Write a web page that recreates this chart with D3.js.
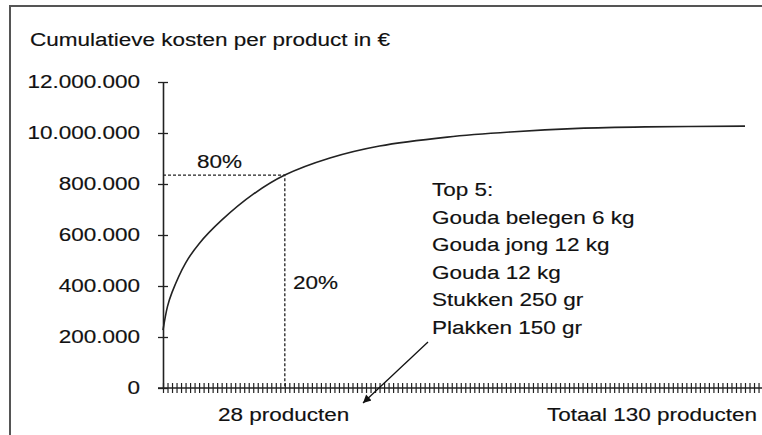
<!DOCTYPE html>
<html>
<head>
<meta charset="utf-8">
<script src="https://cdn.jsdelivr.net/npm/d3@7"></script>
<style>
  body { margin: 0; background: #fff; }
  text { font-family: "Liberation Sans", Arial, sans-serif; font-size: 18px; fill: #111; stroke: #111; stroke-width: 0.15; }
</style>
</head>
<body>
<script>
// cumulative cost (in €) after n products
const products = [1, 2, 3, 6, 9, 14, 21, 28, 38, 49, 64, 78, 93, 108, 130];
const cumCost = [2270000, 3200000, 3750000, 4900000, 5660000, 6580000, 7600000, 8350000, 9020000, 9490000, 9840000, 10040000, 10180000, 10240000, 10270000];

const yTickValues = [0, 2000000, 4000000, 6000000, 8000000, 10000000, 12000000];
const yTickLabels = ["0", "200.000", "400.000", "600.000", "800.000", "10.000.000", "12.000.000"];

const cutoffProduct = 28;
const top5 = ["Top 5:", "Gouda belegen 6 kg", "Gouda jong 12 kg", "Gouda 12 kg", "Stukken 250 gr", "Plakken 150 gr"];

const width = 762, height = 435;
const SX = 1.25; // the scan is stretched sideways

const svg = d3.select("body").append("svg")
    .attr("width", width)
    .attr("height", height);

svg.append("defs").append("marker")
    .attr("id", "arrow")
    .attr("viewBox", "0 0 10 10")
    .attr("refX", 10).attr("refY", 5)
    .attr("markerWidth", 11).attr("markerHeight", 8)
    .attr("markerUnits", "userSpaceOnUse")
    .attr("orient", "auto")
    .append("path")
    .attr("d", "M0,0 L10,5 L0,10 z")
    .attr("fill", "#111");

// frame
svg.append("path")
    .attr("d", `M10,${height} V6 H${width}`)
    .attr("fill", "none")
    .attr("stroke", "#555")
    .attr("stroke-width", 2);

function label(x, y, txt, anchor) {
    svg.append("text")
        .attr("transform", `translate(${x},${y}) scale(${SX},1)`)
        .attr("text-anchor", anchor || "start")
        .text(txt);
}

const x = d3.scaleLinear().domain([1, 130]).range([163, 745]);
const y = d3.scaleLinear().domain([0, 12000000]).range([388, 82]);

// y axis
const yAxis = svg.append("g")
    .attr("transform", `translate(${x(1)},0)`)
    .call(d3.axisLeft(y).tickValues(yTickValues).tickFormat((d, i) => yTickLabels[i]).tickSizeOuter(0));
yAxis.select(".domain").attr("stroke", "#222").attr("stroke-width", 1.6);
yAxis.selectAll(".tick line").attr("x1", 5).attr("x2", -5).attr("stroke", "#222").attr("stroke-width", 1.3);
yAxis.selectAll(".tick text")
    .attr("x", -23 / SX)
    .attr("transform", `scale(${SX},1)`)
    .attr("font-size", 18)
    .attr("font-family", "Liberation Sans, Arial, sans-serif")
    .attr("fill", "#111");

// x axis, one tick per product
const xAxis = svg.append("g")
    .attr("transform", `translate(0,${y(0)})`)
    .call(d3.axisBottom(x).tickValues(d3.range(1, 135)).tickFormat("").tickSizeOuter(0));
xAxis.select(".domain").attr("d", `M158,0 H${width}`).attr("stroke", "#222").attr("stroke-width", 1.6);
xAxis.selectAll(".tick line").attr("y1", -5).attr("y2", 5).attr("stroke", "#222").attr("stroke-width", 1.2);

// dashed 80/20 guides
const cutIdx = products.indexOf(cutoffProduct);
svg.append("path")
    .attr("d", `M${x(1)},${y(cumCost[cutIdx])} H${x(cutoffProduct)} V${y(0)}`)
    .attr("fill", "none")
    .attr("stroke", "#222")
    .attr("stroke-width", 1.3)
    .attr("stroke-dasharray", "3,2");

// curve
const line = d3.line()
    .x((d, i) => x(products[i]))
    .y(d => y(d))
    .curve(d3.curveCatmullRom.alpha(0.5));

svg.append("path")
    .datum(cumCost)
    .attr("d", line)
    .attr("fill", "none")
    .attr("stroke", "#222")
    .attr("stroke-width", 1.6);

// texts
label(30, 46, "Cumulatieve kosten per product in €");
label(197, 168, "80%");
label(293, 289, "20%");
top5.forEach((t, i) => label(432, 196 + i * 27.5, t));
label(218, 421, "28 producten");
label(757, 421, "Totaal 130 producten", "end");

// arrow from the top 5 list to the 28 products
svg.append("line")
    .attr("x1", 428).attr("y1", 342)
    .attr("x2", 363).attr("y2", 403)
    .attr("stroke", "#111")
    .attr("stroke-width", 1.3)
    .attr("marker-end", "url(#arrow)");
</script>
</body>
</html>
